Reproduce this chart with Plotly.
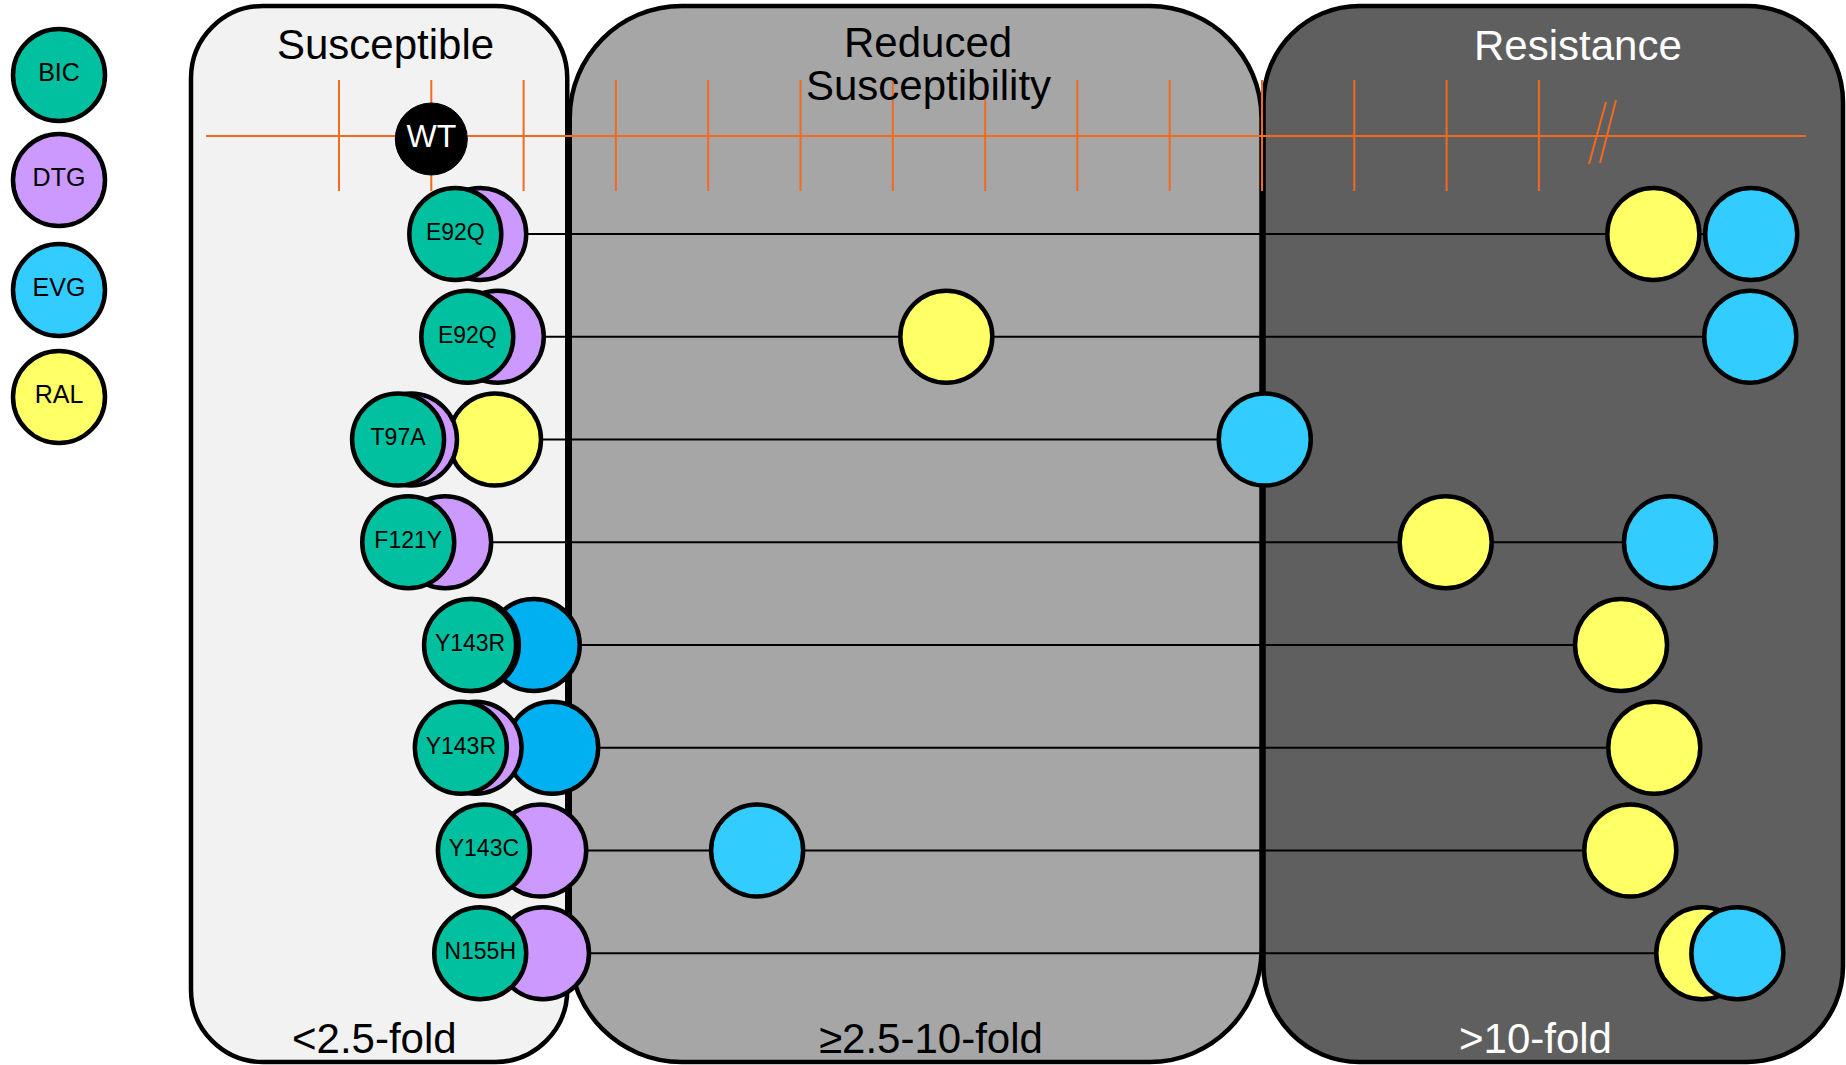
import plotly.graph_objects as go

# ---------------- data ----------------
mutants = ["E92Q", "E92Q", "T97A", "F121Y", "Y143R", "Y143R", "Y143C", "N155H"]
# position of each drug on the fold-change axis (values right of the // break are schematic)
bic_fold = [1.26, 1.39, 0.64, 0.75, 1.42, 1.32, 1.57, 1.53]
dtg_fold = [1.53, 1.72, 0.78, 1.15, 1.45, 1.48, 2.18, 2.21]
evg_fold = [15.30, 15.29, 10.03, 14.42, 2.11, 2.31, 4.53, 15.15]
ral_fold = [14.24, 6.58, 1.69, 11.99, 13.89, 14.25, 13.99, 14.77]
wt_fold = 1.0
tick_folds = list(range(0, 14))
break_fold = 13.7
thresholds = [2.5, 10.0]
drugs = ["BIC", "DTG", "EVG", "RAL"]
zone_titles = ["Susceptible", "Reduced", "Susceptibility", "Resistance"]
zone_ranges = ["<2.5-fold", "≥2.5-10-fold", ">10-fold"]

# ---------------- styles ----------------
W, H = 1846, 1065
X0, XS = 339.0, 92.3       # pixel of fold 0, pixels per fold unit
Y0, YS = 234.0, 102.75     # pixel of first row, pixels per row
AXIS_PY = 136.0

C_BIC, C_DTG, C_EVG, C_EVG2, C_RAL = "#00C0A0", "#CC99FF", "#33CCFF", "#00B0F0", "#FFFF66"
ORANGE = "#F26A1E"
FILLS = ["#F2F2F2", "#A6A6A6", "#5F5F5F"]
FONT = "Liberation Sans, Arial, sans-serif"
NARROW = "Liberation Sans Narrow, Arial Narrow, Liberation Sans, Arial, sans-serif"
MS, MLW = 92, 4.5


def ux(px):
    return (px - X0) / XS


def uy(py):
    return (py - Y0) / YS


def pxx(u):
    return X0 + u * XS


axis_row = uy(AXIS_PY)
rows = list(range(len(mutants)))


def rrect_path(x0, y0, x1, y1, r):
    k = 0.5523 * r
    pts = [
        ("M", [(x0 + r, y0)]),
        ("L", [(x1 - r, y0)]),
        ("C", [(x1 - r + k, y0), (x1, y0 + r - k), (x1, y0 + r)]),
        ("L", [(x1, y1 - r)]),
        ("C", [(x1, y1 - r + k), (x1 - r + k, y1), (x1 - r, y1)]),
        ("L", [(x0 + r, y1)]),
        ("C", [(x0 + r - k, y1), (x0, y1 - r + k), (x0, y1 - r)]),
        ("L", [(x0, y0 + r)]),
        ("C", [(x0, y0 + r - k), (x0 + r - k, y0), (x0 + r, y0)]),
    ]
    s = ""
    for cmd, ps in pts:
        s += cmd + " " + " ".join(f"{ux(a):.5f},{uy(b):.5f}" for a, b in ps) + " "
    return s + "Z"


shapes = []
p25, p10 = pxx(thresholds[0]), pxx(thresholds[1])
panels = [
    (191, 6, p25 - 2.5, 1062, 72, FILLS[0]),
    (p25, 6, p10 - 0.5, 1062, 112, FILLS[1]),
    (p10 + 1.5, 6, 1843, 1062, 96, FILLS[2]),
]
for x0, y0, x1, y1, r, fc in panels:
    shapes.append(dict(type="path", path=rrect_path(x0, y0, x1, y1, r), xref="x", yref="y",
                       fillcolor=fc, line=dict(color="black", width=4.5), layer="below"))

# orange axis
shapes.append(dict(type="line", xref="x", yref="y", x0=ux(206), x1=ux(1806), y0=axis_row, y1=axis_row,
                   line=dict(color=ORANGE, width=2), layer="below"))
for t in tick_folds:
    shapes.append(dict(type="line", xref="x", yref="y", x0=t, x1=t, y0=uy(80), y1=uy(191),
                       line=dict(color=ORANGE, width=2), layer="below"))
bp = pxx(break_fold)
for (ax0, ay0, ax1, ay1) in [(-14.5, 28, 2.5, -34), (-3.5, 27, 12.5, -36)]:
    shapes.append(dict(type="line", xref="x", yref="y", x0=ux(bp + ax0), x1=ux(bp + ax1),
                       y0=uy(AXIS_PY + ay0), y1=uy(AXIS_PY + ay1),
                       line=dict(color=ORANGE, width=2), layer="below"))

fig = go.Figure()

# connecting lines
lx, ly = [], []
for i in rows:
    vals = [bic_fold[i], dtg_fold[i], evg_fold[i], ral_fold[i]]
    lx += [min(vals), max(vals), None]
    ly += [i, i, None]
fig.add_trace(go.Scatter(x=lx, y=ly, mode="lines", line=dict(color="black", width=2),
                         hoverinfo="skip", showlegend=False))

evg_colors = [C_EVG2 if m == "Y143R" else C_EVG for m in mutants]
for vals, col in [(ral_fold, C_RAL), (evg_fold, evg_colors), (dtg_fold, C_DTG)]:
    fig.add_trace(go.Scatter(x=vals, y=rows, mode="markers",
                             marker=dict(size=MS, color=col, line=dict(color="black", width=MLW)),
                             showlegend=False))
fig.add_trace(go.Scatter(x=bic_fold, y=rows, mode="markers+text", text=mutants,
                         textposition="middle center",
                         textfont=dict(family=NARROW, size=23, color="black"),
                         marker=dict(size=MS, color=C_BIC, line=dict(color="black", width=MLW)),
                         showlegend=False))

# WT
fig.add_trace(go.Scatter(x=[wt_fold], y=[uy(139)], mode="markers+text", text=["WT"],
                         textposition="middle center",
                         textfont=dict(family=FONT, size=32, color="white"),
                         marker=dict(size=72, color="black", line=dict(color="black", width=1)),
                         showlegend=False))

# legend circles
leg_py = [75, 180, 290, 397]
fig.add_trace(go.Scatter(x=[ux(59)] * 4, y=[uy(p) for p in leg_py], mode="markers+text", text=drugs,
                         textposition="middle center",
                         textfont=dict(family=NARROW, size=25, color="black"),
                         marker=dict(size=MS, color=[C_BIC, C_DTG, C_EVG, C_RAL],
                                     line=dict(color="black", width=MLW)),
                         showlegend=False))

ann = []
title_pos = [(385, 44, "black"), (928, 42, "black"), (928, 85, "black"), (1578, 45, "white")]
for txt, (px_, py_, col) in zip(zone_titles, title_pos):
    ann.append(dict(x=ux(px_), y=uy(py_), xref="x", yref="y", text=txt, showarrow=False,
                    xanchor="center", yanchor="middle", font=dict(family=FONT, size=42, color=col)))
range_pos = [(374, "black"), (931, "black"), (1535, "white")]
for txt, (px_, col) in zip(zone_ranges, range_pos):
    ann.append(dict(x=ux(px_), y=uy(1038), xref="x", yref="y", text=txt, showarrow=False,
                    xanchor="center", yanchor="middle", font=dict(family=FONT, size=42, color=col)))

fig.update_layout(
    width=W, height=H, margin=dict(l=0, r=0, t=0, b=0),
    paper_bgcolor="white", plot_bgcolor="rgba(0,0,0,0)",
    xaxis=dict(range=[ux(0), ux(W)], visible=False, fixedrange=True),
    yaxis=dict(range=[uy(H), uy(0)], visible=False, fixedrange=True),
    shapes=shapes, annotations=ann, showlegend=False,
)
fig.write_html("out.html", config={"displayModeBar": False},
               post_script="document.body.style.margin='0';document.body.style.overflow='hidden';")
